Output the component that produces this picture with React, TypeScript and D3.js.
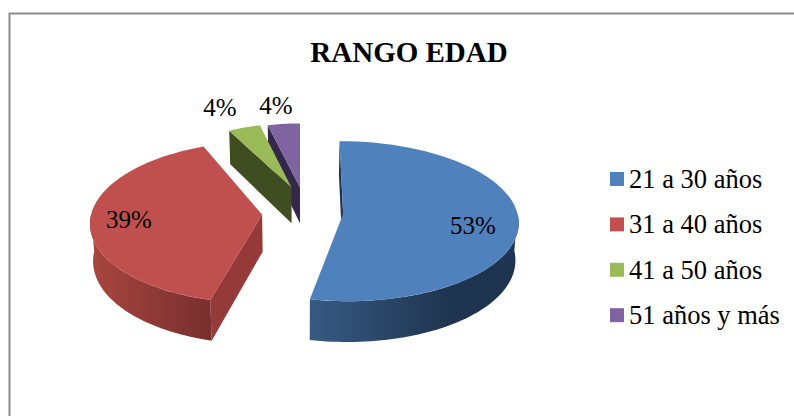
import React from "react";
import * as d3 from "d3";

const categories = ["21 a 30 años", "31 a 40 años", "41 a 50 años", "51 años y más"];
const values = [53, 39, 4, 4];
const topColors = ["#4f81bd", "#c0504d", "#9bbb59", "#8064a2"];
const faceColors = ["#1f3550", "#953a38", "#3f4d21", "#332849"];
const title = "RANGO EDAD";

// placement of each exploded slice on the pie's ground plane
const offsetX = [0.245, -0.215, -0.05, 0];
const offsetY = [-0.01, -0.02, 0.33, 0.33];
const scaleX = [0.99, 0.97, 0.82, 0.82];
const scaleY = [0.99, 1, 0.92, 0.92];
// small visual rotation of the edges caused by the 3D view, in degrees
const startTweak = [0, 4, 0, 0];
const endTweak = [0.5, 5.8, 0, 0];
const labelX = [473, 129, 220, 276];
const labelY = [234, 228, 116, 114];

const W = 794, H = 416;
const VX = 300, Y0 = 213, RX = 176, RY = 80, K = 0.093, DEPTH = 37;
const FONT = "'Liberation Serif', 'Times New Roman', serif";
const RAD = Math.PI / 180;

const line = d3.line<[number, number]>();

function project(i: number, a: number, r: number, z: number): [number, number] {
  const X = r * scaleX[i] * Math.sin(a) + offsetX[i];
  const Y = r * scaleY[i] * Math.cos(a) + offsetY[i];
  const w = 1 + K * Y;
  const sx = VX + (RX * X) / w;
  const sy = Y0 - (RY * Y) / w + (z * DEPTH) / w;
  return [VX + (sx - VX) * (1 - 0.015 * z), sy];
}

export default function App() {
  const arcs = d3.pie<number>().sort(null).startAngle(0).endAngle(2 * Math.PI)(values);
  const startOf = (i: number) => arcs[i].startAngle + startTweak[i] * RAD;
  const endOf = (i: number) => arcs[i].endAngle + endTweak[i] * RAD;
  const samples = (s: number, e: number) => d3.range(0, 61).map((t) => s + ((e - s) * t) / 60);

  const top = (i: number) => {
    const pts = [project(i, 0, 0, 0), ...samples(startOf(i), endOf(i)).map((a) => project(i, a, 1, 0))];
    return line(pts) + "Z";
  };
  const outer = (i: number, s: number, e: number) => {
    const upper = samples(s, e).map((a) => project(i, a, 1, 0));
    const lower = samples(s, e).map((a) => project(i, a, 1, 1)).reverse();
    return line([...upper, ...lower]) + "Z";
  };
  const radial = (i: number, a: number) =>
    line([project(i, 0, 0, 0), project(i, a, 1, 0), project(i, a, 1, 1), project(i, 0, 0, 1)]) + "Z";

  return (
    <svg width={W} height={H} style={{ position: "absolute", left: 0, top: 0 }}>
      <defs>
        <linearGradient id="sideBlue" gradientUnits="userSpaceOnUse" x1={309} x2={450} y1={0} y2={0}>
          <stop offset="0" stopColor="#375a82" />
          <stop offset="1" stopColor="#1f3450" />
        </linearGradient>
        <linearGradient id="sideRed" gradientUnits="userSpaceOnUse" x1={92} x2={212} y1={0} y2={0}>
          <stop offset="0" stopColor="#a8453f" />
          <stop offset="1" stopColor="#772f2e" />
        </linearGradient>
      </defs>
      <rect x={0} y={0} width={W} height={H} fill="#fff" />
      <path d={`M9.5,${H}V13.5H${W}`} fill="none" stroke="#8c8c8c" strokeWidth={2} />

      <text x={409} y={62} textAnchor="middle" fontFamily={FONT} fontWeight="bold" fontSize={29} fill="#000">{title}</text>

      {/* purple */}
      <path d={radial(3, startOf(3))} fill={faceColors[3]} />
      <path d={top(3)} fill={topColors[3]} />
      {/* green */}
      <path d={radial(2, startOf(2))} fill={faceColors[2]} />
      <path d={top(2)} fill={topColors[2]} />
      {/* red */}
      <path d={radial(1, startOf(1))} fill={faceColors[1]} />
      <path d={outer(1, startOf(1), 3 * Math.PI / 2)} fill="url(#sideRed)" />
      <path d={top(1)} fill={topColors[1]} />
      {/* blue */}
      <path d={radial(0, startOf(0))} fill={faceColors[0]} />
      <path d={outer(0, Math.PI / 2, endOf(0))} fill="url(#sideBlue)" />
      <path d={top(0)} fill={topColors[0]} />

      {values.map((v, i) => (
        <text key={i} x={labelX[i]} y={labelY[i]} textAnchor="middle" fontFamily={FONT} fontSize={25} fill="#000">{v}%</text>
      ))}

      {categories.map((c, i) => (
        <g key={c} transform={`translate(610,${172 + i * 45.4})`}>
          <rect width={14} height={14} fill={topColors[i]} />
          <text x={19} y={16} fontFamily={FONT} fontSize={26.5} fill="#000">{c}</text>
        </g>
      ))}
    </svg>
  );
}
